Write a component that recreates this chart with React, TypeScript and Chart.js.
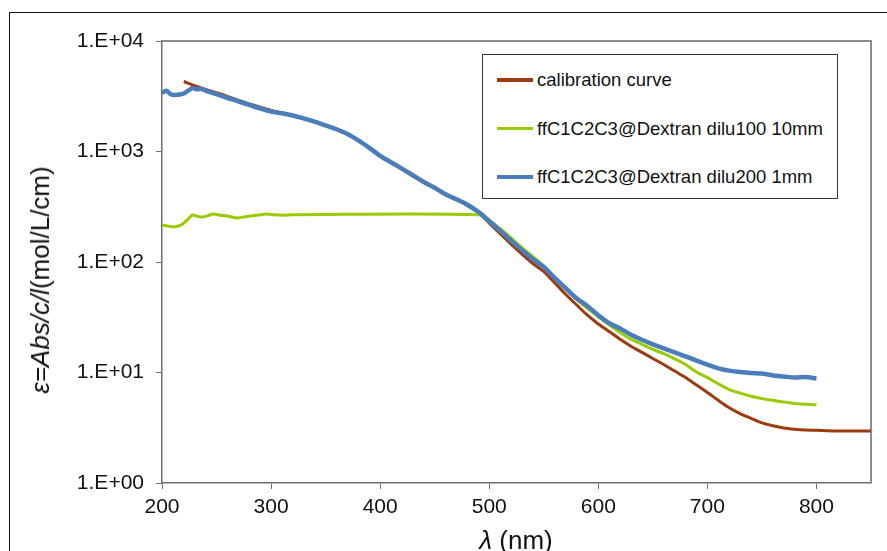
import React, { useEffect, useRef } from "react";
import { Chart, registerables } from "chart.js";

Chart.register(...registerables);

// ---- data ----
const calWl = [220,230,240,250,260,270,280,290,300,310,320,330,340,350,360,370,380,390,400,410,420,430,440,450,460,470,480,490,500,510,520,530,540,550,560,570,580,590,600,610,620,630,640,650,660,670,680,690,700,710,720,730,740,750,760,770,780,790,800,810,820,830,840,850];
const calVal = [4300,3950,3650,3400,3150,2900,2700,2520,2350,2230,2120,1990,1860,1720,1590,1440,1260,1080,910,790,690,600,525,465,405,365,325,280,225,180,145,118,97,82,65,51,41,33,27.5,23.5,20,17.3,15.2,13.4,11.8,10.3,9.0,7.7,6.6,5.6,4.8,4.25,3.85,3.5,3.3,3.15,3.07,3.02,3.0,2.97,2.95,2.95,2.95,2.95];

const greenWl = [200,205,210,215,219,224,228,233,237,242,247,253,260,265,269,275,281,288,296,303,311,320,490,500,510,520,530,540,550,560,570,580,590,600,610,620,630,640,650,660,670,680,690,700,710,720,730,740,750,760,770,780,790,800];
const greenVal = [216,212,208,212,221,245,266,258,255,263,272,265,261,254,250,256,261,266,272,267,265,268,268,238,200,165,135,112,92,72,57,46,38,32,27,23,20,18,16.2,14.8,13.3,11.8,10.1,9.0,7.9,7.0,6.5,6.1,5.8,5.6,5.4,5.25,5.15,5.1];

const blueWl = [200,204,208,212,216,220,224,228,232,236,240,250,260,270,280,290,300,310,320,330,340,350,360,370,380,390,400,410,420,430,440,450,460,470,480,490,500,510,520,530,540,550,560,570,580,590,600,610,620,630,640,650,660,670,680,690,700,710,720,730,740,750,760,770,780,790,800];
const blueVal = [3390,3550,3300,3250,3280,3350,3550,3760,3650,3700,3550,3300,3050,2850,2640,2450,2300,2220,2120,1990,1860,1720,1590,1440,1260,1080,915,800,700,610,530,470,410,370,330,285,235,192,156,128,106,90,72,58,47,40,33,28,25,22,19.8,18,16.5,15.2,14,12.8,11.8,10.9,10.4,10.1,9.9,9.8,9.4,9.2,9.0,9.1,8.8];

const seriesNames = ["calibration curve", "ffC1C2C3@Dextran dilu100 10mm", "ffC1C2C3@Dextran dilu200 1mm"];
const seriesColors = ["#9E3A10", "#99CC00", "#4A7EBB"];

const xTicks = [200, 300, 400, 500, 600, 700, 800];
const yTickValues = [1, 10, 100, 1000, 10000];
const yTickLabels = ["1.E+00", "1.E+01", "1.E+02", "1.E+03", "1.E+04"];

const FONT = "'Liberation Sans', Arial, sans-serif";

const toPts = (xs: number[], ys: number[]) => xs.map((x, i) => ({ x, y: ys[i] }));

const framePlugin = {
  id: "frame",
  beforeDatasetsDraw(chart: any) {
    const { ctx, chartArea } = chart;
    ctx.save();
    ctx.strokeStyle = "#8c8c8c";
    ctx.lineWidth = 2;
    ctx.beginPath();
    ctx.moveTo(chartArea.left, chartArea.top);
    ctx.lineTo(chartArea.right, chartArea.top);
    ctx.lineTo(chartArea.right, chartArea.bottom);
    ctx.stroke();
    ctx.restore();
  },
};

export default function App() {
  const ref = useRef<HTMLCanvasElement | null>(null);

  useEffect(() => {
    if (!ref.current) return;
    const chart = new Chart(ref.current, {
      type: "line",
      data: {
        datasets: [
          { label: seriesNames[0], data: toPts(calWl, calVal), borderColor: seriesColors[0], backgroundColor: seriesColors[0], borderWidth: 3, pointRadius: 0, tension: 0.3, order: 2 },
          { label: seriesNames[1], data: toPts(greenWl, greenVal), borderColor: seriesColors[1], backgroundColor: seriesColors[1], borderWidth: 3, pointRadius: 0, tension: 0.3, order: 1 },
          { label: seriesNames[2], data: toPts(blueWl, blueVal), borderColor: seriesColors[2], backgroundColor: seriesColors[2], borderWidth: 4.5, pointRadius: 0, tension: 0.3, order: 0 },
        ],
      },
      options: {
        animation: false,
        responsive: false,
        maintainAspectRatio: false,
        layout: { padding: { left: 0, top: 41, right: 16, bottom: 0 } },
        plugins: { legend: { display: false }, tooltip: { enabled: false } },
        scales: {
          x: {
            type: "linear",
            min: 200,
            max: 850,
            afterBuildTicks: (s: any) => { s.ticks = xTicks.map((v) => ({ value: v })); },
            afterFit: (s: any) => { s.height = 68; },
            grid: { drawOnChartArea: false, drawTicks: true, tickLength: 6, color: "#6f6f6f", lineWidth: 1 },
            border: { color: "#6f6f6f", width: 1.5 },
            ticks: { color: "#111", font: { family: FONT, size: 21 }, padding: 6, maxRotation: 0 },
          },
          y: {
            type: "logarithmic",
            min: 1,
            max: 10000,
            afterBuildTicks: (s: any) => { s.ticks = yTickValues.map((v) => ({ value: v })); },
            afterFit: (s: any) => { s.width = 162; },
            grid: { drawOnChartArea: false, drawTicks: true, tickLength: 6, color: "#6f6f6f", lineWidth: 1 },
            border: { color: "#6f6f6f", width: 1.5 },
            ticks: {
              color: "#111",
              font: { family: FONT, size: 21 },
              padding: 12,
              callback: (v: any) => {
                const i = yTickValues.indexOf(Number(v));
                return i >= 0 ? yTickLabels[i] : "";
              },
            },
          },
        },
      },
      plugins: [framePlugin],
    });
    return () => chart.destroy();
  }, []);

  return (
    <div style={{ position: "absolute", left: 0, top: 0, width: 887, height: 551, overflow: "hidden", background: "#fff", fontFamily: FONT }}>
      <canvas ref={ref} width={887} height={551} style={{ position: "absolute", left: 0, top: 0, width: 887, height: 551 }} />
      <div style={{ position: "absolute", left: 9, top: 12, width: 900, height: 600, border: "1.5px solid #111", boxSizing: "border-box", pointerEvents: "none" }} />
      <div style={{ position: "absolute", left: 482, top: 54, width: 356, height: 145, border: "1.5px solid #333", boxSizing: "border-box", background: "#fff" }}>
        {seriesNames.map((n, i) => (
          <div key={n} style={{ position: "absolute", left: 14, top: 13 + i * 48.5, height: 24, display: "flex", alignItems: "center", whiteSpace: "nowrap", fontSize: 18.5, color: "#111" }}>
            <span style={{ display: "inline-block", width: 36, height: i === 2 ? 4.5 : 3.5, background: seriesColors[i], marginRight: 4 }} />
            <span>{n}</span>
          </div>
        ))}
      </div>
      <div style={{ position: "absolute", left: 40, top: 280, transform: "translate(-50%, -50%) rotate(-90deg)", whiteSpace: "nowrap", fontSize: 26, color: "#111", lineHeight: 1 }}>
        <i>ε=Abs/c/l</i>(mol/L/cm)
      </div>
      <div style={{ position: "absolute", left: 516, top: 527, transform: "translateX(-50%)", whiteSpace: "nowrap", fontSize: 26, color: "#111", lineHeight: 1 }}>
        <i>λ</i> (nm)
      </div>
    </div>
  );
}
